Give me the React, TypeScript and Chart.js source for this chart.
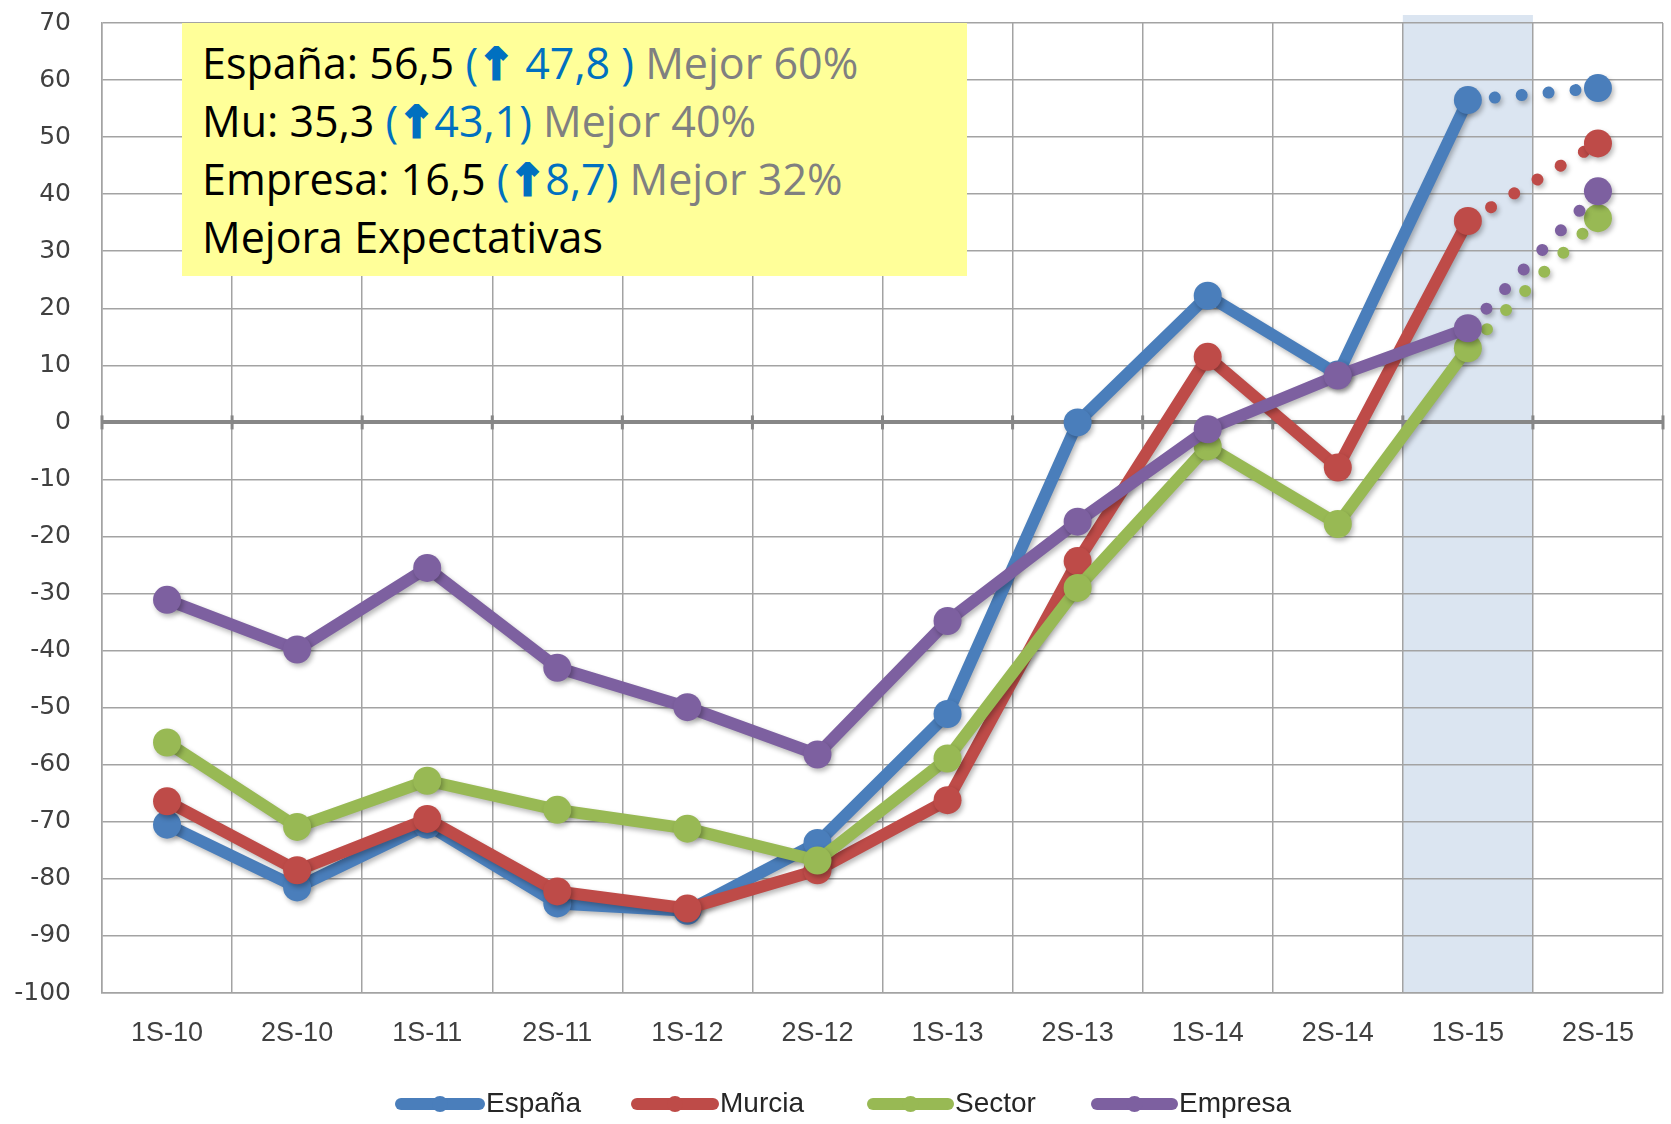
import React, { useEffect, useRef } from 'react';
import { Chart, registerables } from 'chart.js';
Chart.register(...registerables);

const labels = ['1S-10', '2S-10', '1S-11', '2S-11', '1S-12', '2S-12', '1S-13', '2S-13', '1S-14', '2S-14', '1S-15', '2S-15'];
const espana = [-70.5, -81.5, -70.5, -84.3, -85.6, -73.7, -51.1, 0, 22.2, 8.4, 56.5, 58.6];
const murcia = [-66.4, -78.5, -69.5, -82.2, -85.2, -78.5, -66.2, -24.3, 11.5, -7.9, 35.3, 48.9];
const sector = [-56.1, -70.9, -62.8, -67.9, -71.2, -76.8, -58.9, -29.0, -4.2, -17.8, 13.0, 35.8];
const empresa = [-31.1, -39.8, -25.5, -43.0, -49.9, -58.2, -34.8, -17.4, -1.2, 8.2, 16.5, 40.5];
const seriesNames = ['España', 'Murcia', 'Sector', 'Empresa'];
const seriesColors = ['#4a7ebb', '#be4b48', '#98b954', '#7d60a0'];
const highlightIndex = 10;
const yMin = -100;
const yMax = 70;
const yStep = 10;

const W = 1671;
const H = 1124;

const legendPositions = [
  { x1: 396, x2: 484 },
  { x1: 632, x2: 718 },
  { x1: 868, x2: 953 },
  { x1: 1092, x2: 1177 },
];

export default function App() {
  const ref = useRef<HTMLCanvasElement>(null);
  useEffect(() => {
    document.body.style.margin = '0';
    const allData = [espana, murcia, sector, empresa];
    const bandPlugin = {
      id: 'band',
      beforeDraw(chart: any) {
        const { ctx, chartArea } = chart;
        const x = chart.scales.x;
        const w = x.getPixelForValue(1) - x.getPixelForValue(0);
        const cx = x.getPixelForValue(highlightIndex);
        ctx.save();
        ctx.fillStyle = '#dbe5f1';
        ctx.fillRect(cx - w / 2, chartArea.top - 8, w, chartArea.bottom - chartArea.top + 8);
        ctx.restore();
      },
      beforeDatasetsDraw(chart: any) {
        const { ctx } = chart;
        const x = chart.scales.x;
        const y0 = chart.scales.y.getPixelForValue(0);
        const w = x.getPixelForValue(1) - x.getPixelForValue(0);
        ctx.save();
        ctx.strokeStyle = '#868686';
        ctx.lineWidth = 3;
        for (let i = 0; i <= labels.length; i++) {
          const px = x.getPixelForValue(0) - w / 2 + i * w;
          ctx.beginPath();
          ctx.moveTo(px, y0 - 7);
          ctx.lineTo(px, y0 + 7);
          ctx.stroke();
        }
        ctx.restore();
      },
      beforeDatasetDraw(chart: any) {
        const ctx = chart.ctx;
        ctx.save();
        ctx.shadowColor = 'rgba(0,0,0,0.28)';
        ctx.shadowBlur = 5;
        ctx.shadowOffsetX = 2;
        ctx.shadowOffsetY = 3;
      },
      afterDatasetDraw(chart: any) {
        chart.ctx.restore();
      },
      afterDraw(chart: any) {
        const ctx = chart.ctx;
        const ly = 1104;
        ctx.save();
        seriesNames.forEach((name, i) => {
          const p = legendPositions[i];
          ctx.strokeStyle = seriesColors[i];
          ctx.lineWidth = 12;
          ctx.lineCap = 'round';
          ctx.beginPath();
          ctx.moveTo(p.x1 + 5, ly);
          ctx.lineTo(p.x2 - 5, ly);
          ctx.stroke();
          ctx.fillStyle = seriesColors[i];
          ctx.beginPath();
          ctx.arc((p.x1 + p.x2) / 2, ly, 8, 0, Math.PI * 2);
          ctx.fill();
          ctx.fillStyle = '#262626';
          ctx.font = '28px "Liberation Sans", Arial, sans-serif';
          ctx.textBaseline = 'middle';
          ctx.textAlign = 'left';
          ctx.fillText(name, p.x2 + 2, ly);
        });
        ctx.restore();
      },
    };

    const chart = new Chart(ref.current as HTMLCanvasElement, {
      type: 'line',
      data: {
        labels,
        datasets: seriesNames.map((name, i) => ({
          label: name,
          data: allData[i],
          borderColor: seriesColors[i],
          backgroundColor: seriesColors[i],
          borderWidth: 12,
          borderCapStyle: 'round',
          borderJoinStyle: 'round',
          pointRadius: 14,
          pointBorderWidth: 0,
          pointBackgroundColor: seriesColors[i],
          tension: 0,
          order: 4 - i,
          segment: {
            borderDash: (c: any) => (c.p0DataIndex === highlightIndex ? [0.01, 27] : undefined),
          },
        })),
      },
      plugins: [bandPlugin],
      options: {
        animation: false,
        responsive: false,
        maintainAspectRatio: false,
        events: [],
        layout: { autoPadding: false, padding: { top: 23, right: 8, left: 0, bottom: 0 } },
        plugins: { legend: { display: false }, tooltip: { enabled: false } },
        scales: {
          x: {
            offset: true,
            grid: { offset: true, color: '#a3a3a3', lineWidth: 1.5, drawTicks: false },
            border: { display: true, color: '#a3a3a3', width: 1.5 },
            ticks: {
              padding: 24,
              color: '#404040',
              font: { family: '"Liberation Sans", Arial, sans-serif', size: 27 },
              maxRotation: 0,
              autoSkip: false,
            },
            afterFit: (s: any) => {
              s.height = H - 993;
              s.paddingLeft = 0;
              s.paddingRight = 0;
            },
          },
          y: {
            min: yMin,
            max: yMax,
            ticks: {
              stepSize: yStep,
              padding: 31,
              color: '#404040',
              font: { family: '"DejaVu Sans", sans-serif', size: 25 },
            },
            grid: {
              drawTicks: false,
              color: (c: any) => (c.tick && c.tick.value === 0 ? '#878787' : '#a3a3a3'),
              lineWidth: (c: any) => (c.tick && c.tick.value === 0 ? 4 : 1.5),
            },
            border: { display: true, color: '#a3a3a3', width: 1.5 },
            afterFit: (s: any) => {
              s.width = 102;
              s.paddingTop = 0;
              s.paddingBottom = 0;
            },
          },
        },
      } as any,
    });
    return () => chart.destroy();
  }, []);

  const blue = { color: '#0070c0' };
  const gray = { color: '#808080' };
  const arrow = {
    color: '#0070c0',
    fontWeight: 900 as const,
    fontFamily: '"DejaVu Sans", sans-serif',
    lineHeight: '1',
    WebkitTextStroke: '3px #0070c0',
  };
  const line = { height: 58, lineHeight: '58px' };
  return (
    <div style={{ position: 'relative', width: W, height: H, overflow: 'hidden', background: '#fff' }}>
      <canvas ref={ref} width={W} height={H} style={{ position: 'absolute', left: 0, top: 0, width: W, height: H }} />
      <div
        style={{
          position: 'absolute',
          left: 182,
          top: 23,
          width: 785,
          height: 253,
          background: '#ffff99',
          boxSizing: 'border-box',
          paddingLeft: 20,
          paddingTop: 11,
          fontFamily: '"Open Sans", sans-serif',
          fontSize: 43,
          color: '#000',
          whiteSpace: 'nowrap',
        }}
      >
        <div style={line}>
          España: 56,5 <span style={blue}>(<span style={arrow}>↑</span> 47,8 )</span> <span style={gray}>Mejor 60%</span>
        </div>
        <div style={line}>
          Mu: 35,3 <span style={blue}>(<span style={arrow}>↑</span>43,1)</span> <span style={gray}>Mejor 40%</span>
        </div>
        <div style={line}>
          Empresa: 16,5 <span style={blue}>(<span style={arrow}>↑</span>8,7)</span> <span style={gray}>Mejor 32%</span>
        </div>
        <div style={line}>Mejora Expectativas</div>
      </div>
    </div>
  );
}
